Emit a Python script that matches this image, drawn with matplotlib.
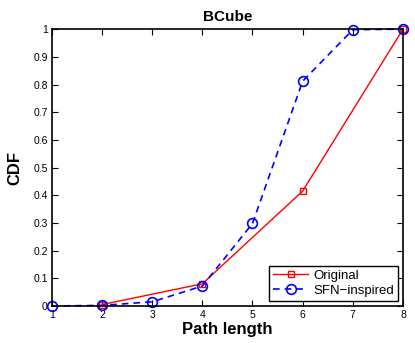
import matplotlib
matplotlib.use('Agg')
import matplotlib.pyplot as plt

plt.rcParams['font.family'] = ['Liberation Sans', 'DejaVu Sans']

# dati
lunghezze_orig = [2, 4, 6, 8]
cdf_orig = [0.005, 0.08, 0.415, 1.0]
lunghezze_sfn = [1, 2, 3, 4, 5, 6, 7, 8]
cdf_sfn = [0.0, 0.002, 0.015, 0.072, 0.298, 0.812, 0.998, 1.0]
x_ticks = [1, 2, 3, 4, 5, 6, 7, 8]
y_ticks = [0, 0.1, 0.2, 0.3, 0.4, 0.5, 0.6, 0.7, 0.8, 0.9, 1]
y_labels = ['0', '0.1', '0.2', '0.3', '0.4', '0.5', '0.6', '0.7', '0.8', '0.9', '1']

fig = plt.figure(figsize=(4.15, 3.43), dpi=100)
ax = fig.add_axes([0.125, 0.108, 0.846, 0.807])

ax.plot(lunghezze_orig, cdf_orig, color='red', linestyle='-', linewidth=1.0,
        marker='s', markersize=5, markerfacecolor='none', markeredgecolor='red',
        markeredgewidth=1.0, label='Original', clip_on=False)
ax.plot(lunghezze_sfn, cdf_sfn, color='blue', linestyle=(0, (4, 3)), linewidth=1.2,
        marker='o', markersize=7, markerfacecolor='none', markeredgecolor='blue',
        markeredgewidth=1.2, label='SFN\u2212inspired', clip_on=False)

ax.set_xlim(1, 8)
ax.set_ylim(0, 1)
ax.set_xticks(x_ticks)
ax.set_yticks(y_ticks)
ax.set_yticklabels(y_labels)
ax.tick_params(direction='in', top=True, right=True, labelsize=7.5, length=4, width=0.8, pad=3)
for s in ax.spines.values():
    s.set_linewidth(1.2)

ax.set_title('BCube', fontsize=11, fontweight='bold', pad=6)
ax.set_xlabel('Path length', fontsize=12, fontweight='bold', labelpad=1)
ax.set_ylabel('CDF', fontsize=12, fontweight='bold', labelpad=8)

leg = ax.legend(loc='lower right', fontsize=9.5, fancybox=False, framealpha=1,
                edgecolor='black', borderpad=0.3, labelspacing=0.2,
                handlelength=2.6, handletextpad=0.4, borderaxespad=0.4)
leg.get_frame().set_linewidth(1.0)

fig.savefig('out.png', dpi=100)
